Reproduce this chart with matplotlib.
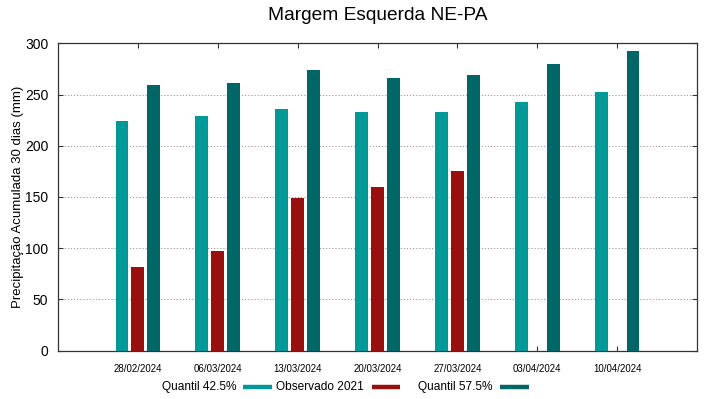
import matplotlib
matplotlib.use("Agg")
import matplotlib.pyplot as plt
import numpy as np
from matplotlib.lines import Line2D

plt.rcParams['font.family'] = ['Liberation Sans', 'DejaVu Sans']

dates = ["28/02/2024", "06/03/2024", "13/03/2024", "20/03/2024",
         "27/03/2024", "03/04/2024", "10/04/2024"]
q425 = [224, 229, 236, 233, 233, 243, 252]
obs2021 = [82, 97, 149, 160, 175, np.nan, np.nan]
q575 = [259, 261, 274, 266, 269, 280, 292]
yticks = [0, 50, 100, 150, 200, 250, 300]

c_q425 = "#009999"
c_obs = "#990f0f"
c_q575 = "#006666"

W, H = 719, 399
fig = plt.figure(figsize=(W/100, H/100), dpi=100)
ax = fig.add_axes([58/W, 1 - 350.5/H, (697-58)/W, (350.5-43.3)/H])

x = np.arange(1, len(dates) + 1)
w = 0.16
ax.bar(x - 0.2, q425, width=w, color=c_q425, zorder=3)
ax.bar(x, obs2021, width=w, color=c_obs, zorder=3)
ax.bar(x + 0.2, q575, width=w, color=c_q575, zorder=3)

ax.set_xlim(0, 8)
ax.set_ylim(0, 300)
ax.set_xticks(x)
ax.set_xticklabels(dates, fontsize=7.0)
ax.set_yticks(yticks)
ax.set_yticklabels([str(v) for v in yticks], fontsize=10)
ax.tick_params(axis='both', direction='in', top=True, right=True, length=3.5, width=0.8, color='#333333')
ax.tick_params(axis='x', pad=10)
ax.tick_params(axis='y', pad=7)
ax.grid(axis='y', linestyle=(0, (1.2, 2.0)), color='#999999', linewidth=0.7, zorder=0)
for s in ax.spines.values():
    s.set_color('#333333')
    s.set_linewidth(0.9)

ax.set_ylabel("Precipitação Acumulada 30 dias (mm)", fontsize=9.5, labelpad=1)
fig.text(378/W, 1 - 16/H, "Margem Esquerda NE-PA", ha='center', va='center', fontsize=13.8)

# legend (gnuplot-style: text then sample)
labels = ["Quantil 42.5%", "Observado 2021", "Quantil 57.5%"]
colors = [c_q425, c_obs, c_q575]
text_right = [236, 364, 493]
sample_x = [(243, 272), (372, 400), (500, 529)]
ly = 1 - 387/H
for lab, col, tr, (s0, s1) in zip(labels, colors, text_right, sample_x):
    fig.text(tr/W, ly, lab, ha='right', va='center', fontsize=8.6)
    fig.add_artist(Line2D([s0/W, s1/W], [ly, ly], color=col, lw=3.2,
                          solid_capstyle='butt', transform=fig.transFigure))

fig.savefig("out.png", dpi=100)
